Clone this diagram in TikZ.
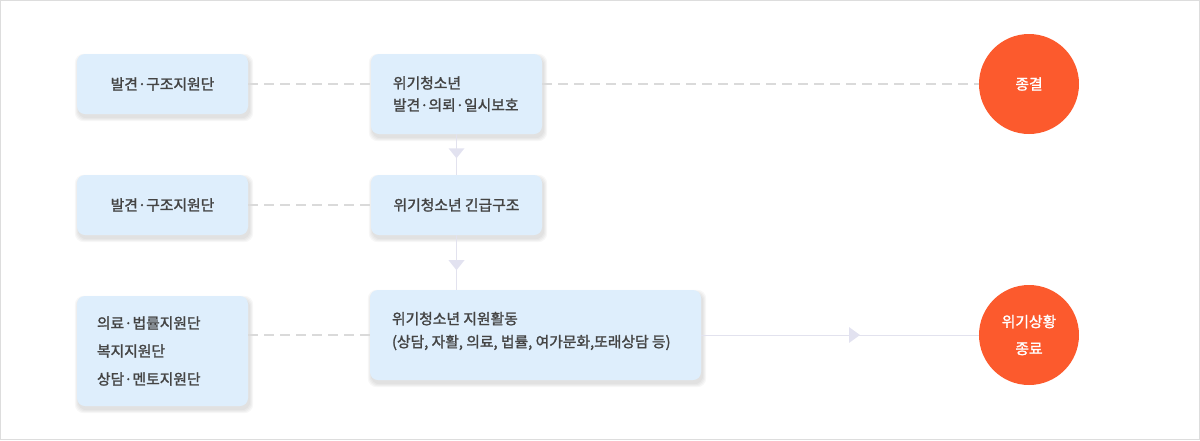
\documentclass[tikz,border=0pt]{standalone}
\usepackage{fontspec}
\setmainfont{Noto Sans CJK KR}[UprightFeatures={FakeBold=1.6}]
\usetikzlibrary{calc}
\pgfdeclarelayer{background}
\pgfsetlayers{background,main}
\definecolor{boxfill}{HTML}{DEEEFC}
\definecolor{txt}{HTML}{444444}
\definecolor{dashc}{HTML}{DADADA}
\definecolor{linec}{HTML}{E2E2EE}
\definecolor{trif}{HTML}{E2E2F0}
\definecolor{accent}{HTML}{FC5A2D}
\definecolor{framec}{HTML}{DDDDDD}
\begin{document}
\begin{tikzpicture}[x=1pt,y=-1pt,
  box/.style={fill=boxfill, rounded corners=8pt, inner sep=0pt, minimum width=171pt,
    text=txt, font=\fontsize{14.8pt}{22pt}\selectfont, align=center},
  lbl/.style={text=txt, font=\fontsize{14.8pt}{22pt}\selectfont, inner sep=0pt, align=left},
  circ/.style={circle, fill=accent, minimum size=100pt, inner sep=0pt, text=white,
    font=\fontsize{14.8pt}{27pt}\selectfont, align=center},
  dline/.style={draw=dashc, line width=2pt, dash pattern=on 10pt off 6pt},
  sline/.style={draw=linec, line width=1pt},
  tri/.style={fill=trif}]
\useasboundingbox (0,0) rectangle (1200,440);
\draw[framec, line width=1pt] (0.5,0.5) rectangle (1199.5,439.5);

% boxes
\node[box, minimum height=60pt] (a1) at (162.5,84) {발견·구조지원단};
\node[box, minimum height=80pt] (b1) at (456.5,94) {};
\node[lbl, anchor=west] (b1t) at ($(b1.west)+(22,0)$) {위기청소년\\발견·의뢰·일시보호};
\node[box, minimum height=60pt] (a2) at (162.5,205) {발견·구조지원단};
\node[box, minimum height=60pt] (b2) at (456.5,205) {위기청소년 긴급구조};
\node[box, minimum height=110pt] (a3) at (162.5,351) {};
\node[lbl, anchor=west, font=\fontsize{14.8pt}{28pt}\selectfont] (a3t) at ($(a3.west)+(20,0)$) {의료·법률지원단\\복지지원단\\상담·멘토지원단};
\node[box, minimum width=331pt, minimum height=90pt] (b3) at (535.5,335) {};
\node[lbl, anchor=west, font=\fontsize{14.8pt}{23pt}\selectfont] (b3t) at ($(b3.west)+(22,-4)$) {위기청소년 지원활동\\(상담, 자활, 의료, 법률, 여가문화,또래상담 등)};

% circles
\node[circ] (c1) at (1029,84) {종결};
\node[circ] (c2) at (1029,335) {위기상황\\종료};

% shadows
\begin{pgfonlayer}{background}
\foreach \n in {a1,b1,a2,b2,a3,b3}{
  \foreach \s in {0,1,2,3}{
    \fill[black, opacity=0.03, rounded corners=9pt]
      ($(\n.north west)+(1-\s,3-\s)$) rectangle ($(\n.south east)+(2+\s,4+\s)$);
  }
}
\end{pgfonlayer}

% connectors
\draw[dline] (a1.east) -- (a1.east -| b1.west);
\draw[dline] (a1.east -| b1.east) -- (c1.west);
\draw[dline] (a2.east) -- (b2.west);
\draw[dline] (b3.west -| a3.east) -- (b3.west);
\draw[sline] (b3.east) -- (c2.west);
\draw[sline] (b1.south) -- (b2.north);
\draw[sline] (b2.south) -- (b2.south |- b3.north);

% arrow heads
\coordinate (m1) at ($(b1.south)!0.47!(b2.north)$);
\coordinate (m2) at ($(b2.south)!0.55!(b2.south |- b3.north)$);
\coordinate (m3) at (854.5,335);
\fill[tri] ($(m1)+(-8,-5)$) -- ($(m1)+(8,-5)$) -- ($(m1)+(0,5)$) -- cycle;
\fill[tri] ($(m2)+(-8,-5)$) -- ($(m2)+(8,-5)$) -- ($(m2)+(0,5)$) -- cycle;
\fill[tri] ($(m3)+(-5.5,-8)$) -- ($(m3)+(-5.5,8)$) -- ($(m3)+(5.5,0)$) -- cycle;
\end{tikzpicture}
\end{document}
